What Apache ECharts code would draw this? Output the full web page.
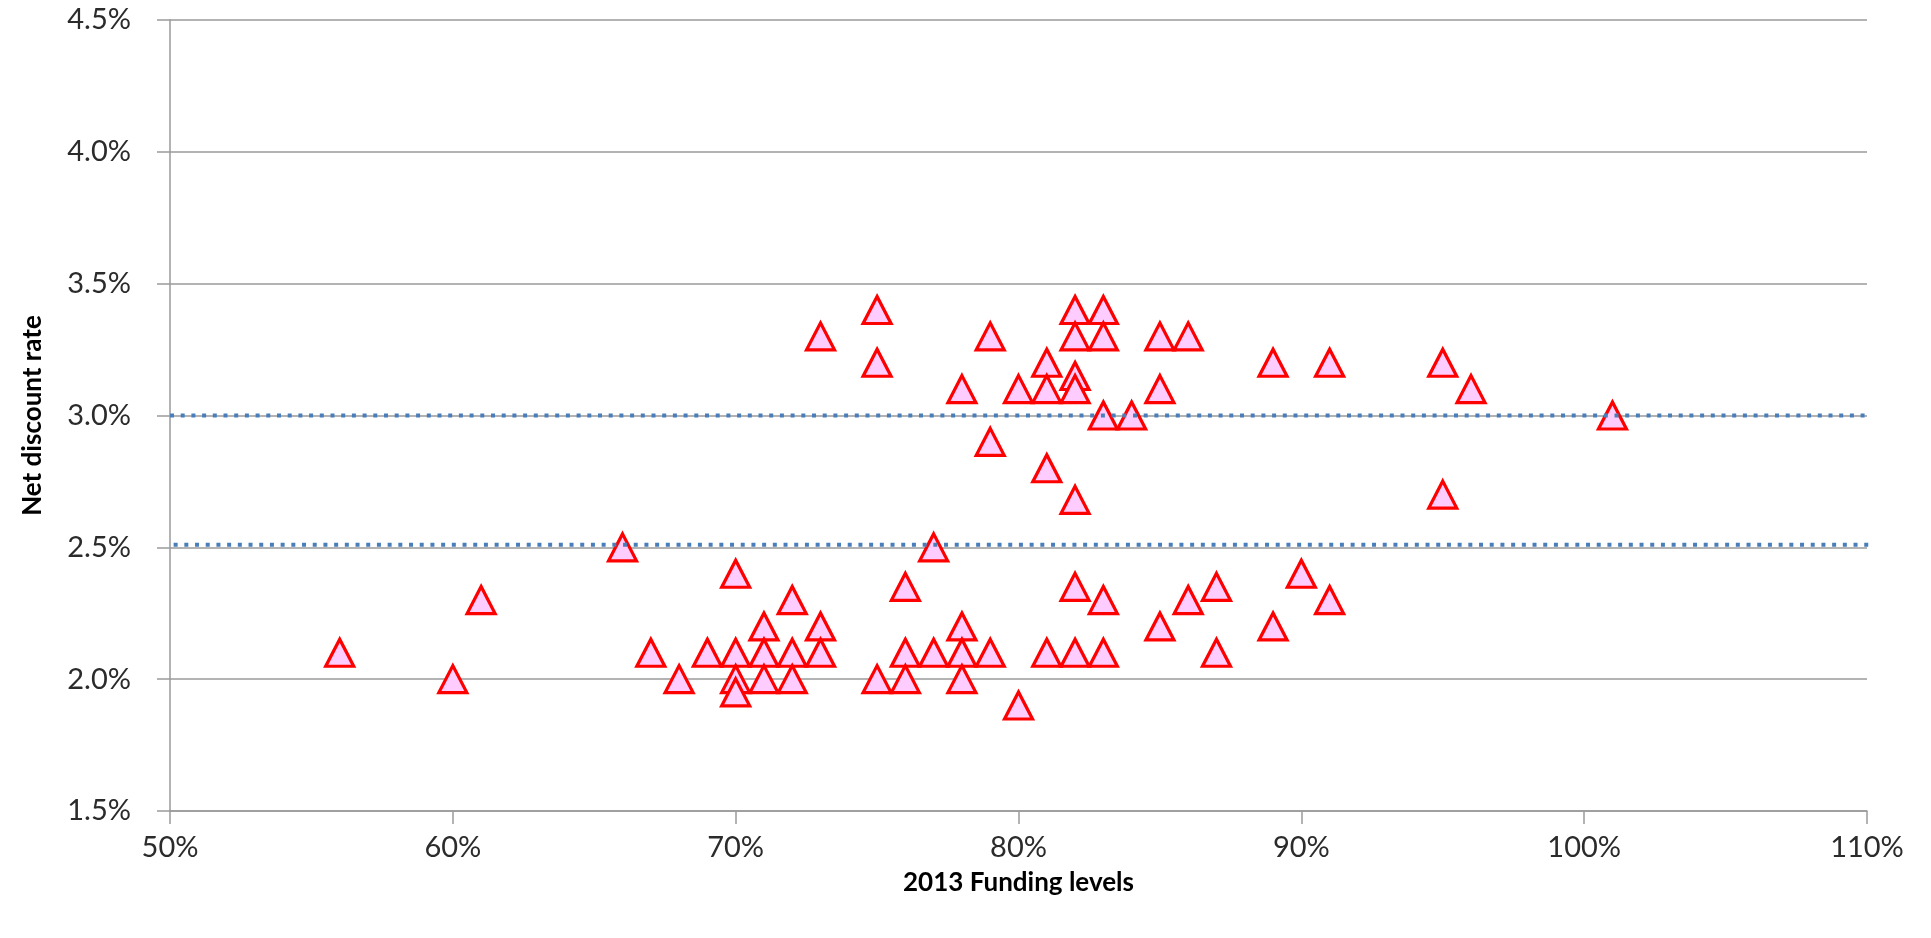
<!DOCTYPE html>
<html>
<head>
<meta charset="utf-8">
<script src="https://cdn.jsdelivr.net/npm/echarts@6/dist/echarts.min.js"></script>
<style>
html,body{margin:0;padding:0;background:#fff;}
#chart{width:1931px;height:938px;}
</style>
</head>
<body>
<div id="chart"></div>
<script>
// Funding level (%) of each scheme
const fundingLevels = [
  56, 60, 61, 66, 67, 68, 69,
  70, 70, 70, 70,
  71, 71, 71,
  72, 72, 72,
  73, 73, 73,
  75, 75, 75,
  76, 76, 76,
  77, 77,
  78, 78, 78, 78,
  79, 79, 79,
  80, 80,
  81, 81, 81, 81,
  82, 82, 82, 82, 82, 82, 82,
  83, 83, 83, 83, 83,
  84,
  85, 85, 85,
  86, 86,
  87, 87,
  89, 89,
  90,
  91, 91,
  95, 95,
  96,
  101
];
// Net discount rate (%) of each scheme
const discountRates = [
  2.1, 2.0, 2.3, 2.5, 2.1, 2.0, 2.1,
  2.4, 2.1, 2.0, 1.95,
  2.2, 2.1, 2.0,
  2.3, 2.1, 2.0,
  3.3, 2.2, 2.1,
  3.4, 3.2, 2.0,
  2.35, 2.1, 2.0,
  2.5, 2.1,
  3.1, 2.2, 2.1, 2.0,
  3.3, 2.9, 2.1,
  3.1, 1.9,
  3.2, 3.1, 2.8, 2.1,
  3.4, 3.3, 3.15, 3.1, 2.68, 2.35, 2.1,
  3.4, 3.3, 3.0, 2.3, 2.1,
  3.0,
  3.3, 3.1, 2.2,
  3.3, 2.3,
  2.35, 2.1,
  3.2, 2.2,
  2.4,
  3.2, 2.3,
  3.2, 2.7,
  3.1,
  3.0
];
// Dotted reference lines (funding %, rate %)
const refLineUpperX = [50, 111.8];
const refLineUpperY = [3.0, 3.0];
const refLineLowerX = [49.75, 111.8];
const refLineLowerY = [2.51, 2.51];
// Axis settings
const xTicks = {min: 50, max: 110, interval: 10};
const yTicks = {min: 1.5, max: 4.5, interval: 0.5};
const xTitle = '2013 Funding levels';
const yTitle = 'Net discount rate';

const points = fundingLevels.map((x, i) => [x, discountRates[i]]);
const upper = refLineUpperX.map((x, i) => [x, refLineUpperY[i]]);
const lower = refLineLowerX.map((x, i) => [x, refLineLowerY[i]]);

const FONT = 'Lato';
const chart = echarts.init(document.getElementById('chart'), null, {renderer: 'canvas'});
chart.setOption({
  animation: false,
  backgroundColor: '#ffffff',
  grid: {left: 170, right: 64, top: 20, bottom: 127, containLabel: false},
  xAxis: {
    type: 'value',
    min: xTicks.min, max: xTicks.max, interval: xTicks.interval,
    name: xTitle,
    nameLocation: 'middle',
    nameGap: 59,
    nameTextStyle: {fontFamily: FONT, fontSize: 26, fontWeight: 'bold', color: '#000'},
    axisLine: {show: true, onZero: false, lineStyle: {color: '#9a9a9a', width: 1.5}},
    axisTick: {show: true, inside: false, length: 13, lineStyle: {color: '#9a9a9a', width: 1.5}},
    axisLabel: {margin: 22, fontFamily: FONT, fontSize: 29, color: '#2b2b2b', formatter: v => v + '%'},
    splitLine: {show: false}
  },
  yAxis: {
    type: 'value',
    min: yTicks.min, max: yTicks.max, interval: yTicks.interval,
    name: yTitle,
    nameLocation: 'middle',
    nameRotate: 90,
    nameGap: 124,
    nameTextStyle: {fontFamily: FONT, fontSize: 26, fontWeight: 'bold', color: '#000'},
    axisLine: {show: true, onZero: false, lineStyle: {color: '#9a9a9a', width: 1.5}},
    axisTick: {show: true, inside: false, length: 13, lineStyle: {color: '#9a9a9a', width: 1.5}},
    axisLabel: {margin: 39, fontFamily: FONT, fontSize: 29, color: '#2b2b2b', formatter: v => v.toFixed(1) + '%'},
    splitLine: {show: true, lineStyle: {color: '#9a9a9a', width: 1.5}}
  },
  series: [
    {
      type: 'scatter',
      data: points,
      symbol: 'triangle',
      symbolSize: [28, 27],
      itemStyle: {color: '#ffccff', borderColor: '#ff0000', borderWidth: 3.2, opacity: 1},
      z: 2
    },
    {
      type: 'line',
      data: upper,
      clip: false,
      symbol: 'none',
      lineStyle: {color: '#4a7ebb', width: 4, type: [4, 6.7]},
      z: 3
    },
    {
      type: 'line',
      data: lower,
      clip: false,
      symbol: 'none',
      lineStyle: {color: '#4a7ebb', width: 4, type: [4, 6.7]},
      z: 3
    }
  ]
});
</script>
</body>
</html>
